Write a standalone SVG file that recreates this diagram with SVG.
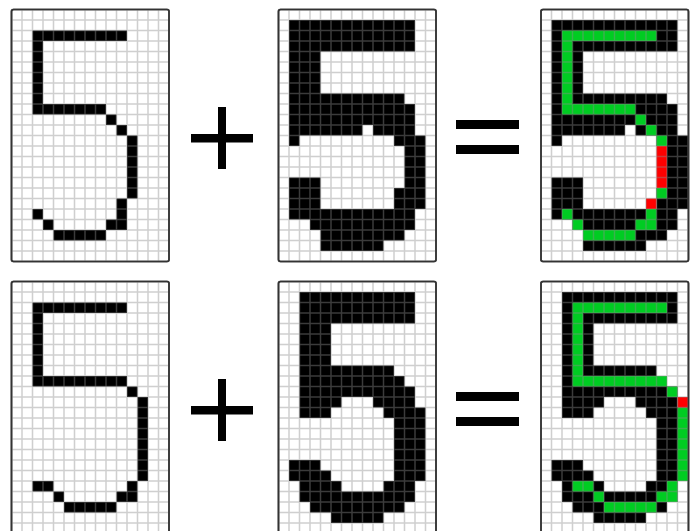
<svg xmlns="http://www.w3.org/2000/svg" width="691" height="531" viewBox="0 0 691 531">
<style>
.frame{fill:#ffffff;stroke:#333333;stroke-width:1.6}
.edge{fill:none;stroke:#333333;stroke-width:1.6}
.blk{fill:#000000}
.grn{fill:#00cc22}
.red{fill:#ff0000}
.gridl{fill:none;stroke:#8d8d8d;stroke-opacity:0.42;stroke-width:1.5}
.op{fill:#000000}
</style>
<defs>
<path id="grid" class="gridl" d="M0 0V252M10.5 0V252M21 0V252M31.5 0V252M42 0V252M52.5 0V252M63 0V252M73.5 0V252M84 0V252M94.5 0V252M105 0V252M115.5 0V252M126 0V252M136.5 0V252M147 0V252M157.5 0V252M0 0H157.5M0 10.5H157.5M0 21H157.5M0 31.5H157.5M0 42H157.5M0 52.5H157.5M0 63H157.5M0 73.5H157.5M0 84H157.5M0 94.5H157.5M0 105H157.5M0 115.5H157.5M0 126H157.5M0 136.5H157.5M0 147H157.5M0 157.5H157.5M0 168H157.5M0 178.5H157.5M0 189H157.5M0 199.5H157.5M0 210H157.5M0 220.5H157.5M0 231H157.5M0 241.5H157.5M0 252H157.5"/>
<path id="grid14" class="gridl" d="M0 0V252M10.5 0V252M21 0V252M31.5 0V252M42 0V252M52.5 0V252M63 0V252M73.5 0V252M84 0V252M94.5 0V252M105 0V252M115.5 0V252M126 0V252M136.5 0V252M147 0V252M0 0H147M0 10.5H147M0 21H147M0 31.5H147M0 42H147M0 52.5H147M0 63H147M0 73.5H147M0 84H147M0 94.5H147M0 105H147M0 115.5H147M0 126H147M0 136.5H147M0 147H147M0 157.5H147M0 168H147M0 178.5H147M0 189H147M0 199.5H147M0 210H147M0 220.5H147M0 231H147M0 241.5H147M0 252H147"/>
</defs>

<g id="panel-template-top" transform="translate(11.5,9.5)">
<rect class="frame" x="0" y="0" width="157.5" height="252" rx="2"/>
<path class="blk" transform="scale(10.5)" d="M2 2h9v1h-9z M2 3h1v6h-1z M2 9h7v1h-7z M9 10h1v1h-1z M10 11h1v1h-1z M11 12h1v6h-1z M10 18h1v1h-1z M2 19h1v1h-1z M10 19h1v1h-1z M3 20h1v1h-1z M9 20h2v1h-2z M4 21h5v1h-5z"/>
<use href="#grid"/>
<rect class="edge" x="0" y="0" width="157.5" height="252" rx="2"/>
</g>

<g id="plus-top">
<rect class="op" x="218" y="107" width="8" height="62"/>
<rect class="op" x="191" y="134" width="62" height="8.5"/>
</g>

<g id="panel-digit-top" transform="translate(278.5,9.5)">
<rect class="frame" x="0" y="0" width="157.5" height="252" rx="2"/>
<path class="blk" transform="scale(10.5)" d="M1 1h12v3h-12z M1 4h3v4h-3z M1 8h11v1h-11z M1 9h12v2h-12z M1 11h7v1h-7z M9 11h4v1h-4z M1 12h1v1h-1z M11 12h3v1h-3z M12 13h2v4h-2z M11 17h3v2h-3z M1 16h3v3h-3z M1 19h12v1h-12z M3 20h10v1h-10z M4 21h8v1h-8z M4 22h6v1h-6z"/>
<use href="#grid"/>
<rect class="edge" x="0" y="0" width="157.5" height="252" rx="2"/>
</g>

<g id="equals-top">
<rect class="op" x="456" y="120" width="63" height="9"/>
<rect class="op" x="456" y="145" width="63" height="9"/>
</g>

<g id="panel-result-top" transform="translate(541,9.5)">
<rect class="frame" x="0" y="0" width="147.5" height="252" rx="2"/>
<path class="blk" transform="scale(10.5)" d="M1 1h12v3h-12z M1 4h3v4h-3z M1 8h11v1h-11z M1 9h12v2h-12z M1 11h7v1h-7z M9 11h4v1h-4z M1 12h1v1h-1z M11 12h3v1h-3z M12 13h2v4h-2z M11 17h3v2h-3z M1 16h3v3h-3z M1 19h12v1h-12z M3 20h10v1h-10z M4 21h8v1h-8z M4 22h6v1h-6z"/>
<path class="grn" transform="scale(10.5)" d="M2 2h9v1h-9z M2 3h1v6h-1z M2 9h7v1h-7z M9 10h1v1h-1z M10 11h1v1h-1z M11 12h1v1h-1z M11 17h1v1h-1z M2 19h1v1h-1z M10 19h1v1h-1z M3 20h1v1h-1z M9 20h2v1h-2z M4 21h5v1h-5z"/>
<path class="red" transform="scale(10.5)" d="M11 13h1v4h-1z M10 18h1v1h-1z"/>
<use href="#grid14"/>
<rect class="edge" x="0" y="0" width="147.5" height="252" rx="2"/>
</g>

<g id="panel-template-bottom" transform="translate(11.5,281.5)">
<rect class="frame" x="0" y="0" width="157.5" height="252" rx="2"/>
<path class="blk" transform="scale(10.5)" d="M2 2h9v1h-9z M2 3h1v6h-1z M2 9h9v1h-9z M11 10h1v1h-1z M12 11h1v8h-1z M2 19h2v1h-2z M11 19h1v1h-1z M4 20h1v1h-1z M10 20h2v1h-2z M5 21h5v1h-5z"/>
<use href="#grid"/>
<rect class="edge" x="0" y="0" width="157.5" height="252" rx="2"/>
</g>

<g id="plus-bottom">
<rect class="op" x="218" y="379" width="8" height="62"/>
<rect class="op" x="191" y="406" width="62" height="8.5"/>
</g>

<g id="panel-digit-bottom" transform="translate(278.5,281.5)">
<rect class="frame" x="0" y="0" width="157.5" height="252" rx="2"/>
<path class="blk" transform="scale(10.5)" d="M2 1h11v3h-11z M2 4h3v4h-3z M2 8h9v1h-9z M2 9h10v1h-10z M2 10h11v1h-11z M2 11h4v1h-4z M9 11h4v1h-4z M2 12h3v1h-3z M10 12h4v1h-4z M11 13h3v6h-3z M1 17h3v1h-3z M1 18h4v1h-4z M2 19h4v1h-4z M10 19h3v1h-3z M2 20h11v1h-11z M3 21h9v1h-9z M5 22h5v1h-5z"/>
<use href="#grid"/>
<rect class="edge" x="0" y="0" width="157.5" height="252" rx="2"/>
</g>

<g id="equals-bottom">
<rect class="op" x="456" y="392" width="63" height="9"/>
<rect class="op" x="456" y="417" width="63" height="9"/>
</g>

<g id="panel-result-bottom" transform="translate(541,281.5)">
<rect class="frame" x="0" y="0" width="147.5" height="252" rx="2"/>
<path class="blk" transform="scale(10.5)" d="M2 1h11v3h-11z M2 4h3v4h-3z M2 8h9v1h-9z M2 9h10v1h-10z M2 10h11v1h-11z M2 11h4v1h-4z M9 11h4v1h-4z M2 12h3v1h-3z M10 12h4v1h-4z M11 13h3v6h-3z M1 17h3v1h-3z M1 18h4v1h-4z M2 19h4v1h-4z M10 19h3v1h-3z M2 20h11v1h-11z M3 21h9v1h-9z M5 22h5v1h-5z"/>
<path class="grn" transform="scale(10.5)" d="M3 2h9v1h-9z M3 3h1v6h-1z M3 9h9v1h-9z M12 10h1v1h-1z M13 12h1v7h-1z M3 19h2v1h-2z M12 19h1v1h-1z M5 20h1v1h-1z M11 20h2v1h-2z M6 21h5v1h-5z"/>
<path class="red" transform="scale(10.5)" d="M13 11h1v1h-1z"/>
<use href="#grid14"/>
<rect class="edge" x="0" y="0" width="147.5" height="252" rx="2"/>
</g>
</svg>
